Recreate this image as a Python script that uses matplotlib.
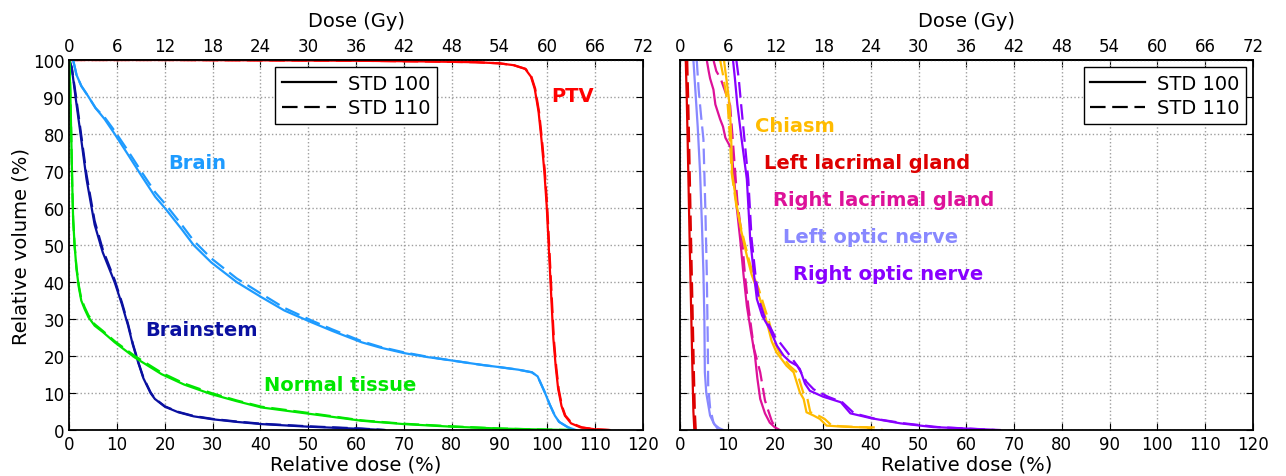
import matplotlib
matplotlib.use("Agg")
import matplotlib.pyplot as plt
from matplotlib.lines import Line2D
from matplotlib import rcParams

config = {
    "font.family": "DejaVu Sans",
    "font.size": 14,
    "xtick.labelsize": 12,
    "ytick.labelsize": 12,
    "xtick.direction": "in",
    "ytick.direction": "in",
    "xtick.major.size": 5,
    "ytick.major.size": 5,
    "axes.linewidth": 1.3,
}
rcParams.update(config)

# ---- left panel: relative dose (%) vs relative volume (%) ----
ptv_x = [0, 20, 40, 60, 75, 85, 90, 93, 95.4, 96.6, 97.4, 98.2, 98.8, 99.4, 99.9, 100.6,
         101.3, 101.8, 102.3, 103, 103.7, 105, 107, 110, 113]
ptv_y = [100, 100, 99.9, 99.8, 99.6, 99.4, 99.1, 98.6, 97.6, 95.5, 92.2, 86, 78.6, 70, 60.6, 42.6,
         24.6, 17, 11.1, 6.5, 3.9, 1.8, 0.7, 0.2, 0]
ptv_x2 = [0, 20, 40, 60, 75, 85, 90, 93, 95.5, 96.7, 97.5, 98.3, 98.9, 99.5, 100.0, 100.7,
          101.4, 101.9, 102.4, 103.1, 103.8, 105.2, 107.3, 110, 113]
ptv_y2 = ptv_y

brain_x = [0.8, 1.5, 2.5, 3.9, 5.5, 7.4, 9.5, 12, 15.1, 18, 20, 23.5, 26, 29.7, 35,
           40.2, 45, 50.7, 55, 61.2, 65, 70, 75, 80, 86.3, 90, 94, 96.8, 98, 99.5,
           100.5, 101.6, 102.5, 104.4, 106]
brain_y = [100, 96, 93, 90.3, 87, 84, 80, 75, 68.7, 63, 60, 54.3, 50, 45.3, 40,
           35.9, 32.3, 29.1, 26.8, 23.7, 22.3, 20.8, 19.7, 18.8, 17.6, 17, 16.3, 15.6, 14.5, 10.2,
           7, 3.9, 2.2, 0.7, 0]
brain_y2 = [100, 96, 93, 90.3, 87, 84.5, 80.8, 76, 69.8, 64.2, 61.2, 55.5, 51.2, 46.4, 41,
            36.8, 33, 29.6, 27.2, 24, 22.5, 21, 19.8, 18.8, 17.6, 17, 16.3, 15.6, 14.5, 10.2,
            7, 3.9, 2.2, 0.7, 0]

stem_x = [0, 0.5, 0.8, 1.3, 2.2, 3.6, 5.3, 7, 9.5, 11, 12.3, 13.3, 14.4, 15.5, 17,
          17.9, 20, 22.8, 26, 30, 35, 40.2, 50, 61.2, 66]
stem_y = [100, 98, 95, 90, 81.4, 67.8, 55.5, 48, 39.9, 34, 28.2, 23, 18.3, 14, 10,
          8.4, 6.3, 4.8, 3.7, 2.9, 2.2, 1.6, 0.9, 0.3, 0]
stem_y2 = [100, 98, 95.5, 91, 82.5, 69, 56.5, 48.8, 40.5, 34.5, 28.6, 23.3, 18.5, 14.2, 10.2,
           8.5, 6.4, 4.9, 3.8, 3.0, 2.3, 1.7, 1.0, 0.4, 0]

norm_x = [0, 0.2, 0.4, 0.6, 0.8, 1.1, 1.5, 2, 2.5, 3.2, 4, 5.3, 7, 9.5, 13.7,
          19.3, 24, 29.7, 35, 40.2, 50.7, 61.2, 70, 80, 90, 100, 105]
norm_y = [100, 92, 80, 67, 57, 50, 43.5, 38.5, 35, 32.7, 30.5, 28.2, 26.5, 23.7, 19.6,
          15.1, 12.3, 9.7, 7.8, 6.1, 4.3, 2.5, 1.6, 0.9, 0.4, 0.1, 0]
norm_y2 = [100, 92, 80, 67, 57, 50, 44, 39, 35.5, 33.2, 31, 28.6, 26.8, 24, 20,
           15.5, 12.6, 10, 8, 6.3, 4.5, 2.6, 1.7, 1.0, 0.4, 0.1, 0]

# ---- right panel ----
llac_x = [1.2, 1.4, 1.6, 1.8, 2.0, 2.2, 2.4, 2.6, 2.8, 3.0]
llac_y = [100, 90, 78, 65, 52, 40, 28, 16, 5, 0]
llac_x2 = [1.5, 1.7, 1.9, 2.1, 2.3, 2.5, 2.7, 2.9, 3.1, 3.3]
llac_y2 = llac_y

lopt_x = [2.8, 3.2, 3.7, 4.2, 4.6, 4.9, 5.1, 5.2, 5.5, 6.3, 7.2, 8.2, 9.1]
lopt_y = [100, 92, 82, 69.6, 55, 42.6, 30, 15.6, 10, 3.9, 1.5, 0.5, 0]
lopt_x2 = [3.5, 3.9, 4.4, 4.9, 5.3, 5.6, 5.8, 5.9, 6.3, 7.0, 7.8, 8.5]
lopt_y2 = [100, 92, 85, 78.6, 60, 42.6, 25, 12, 6, 2, 0.5, 0]

rlac_x = [5.6, 6.0, 6.3, 7.0, 7.4, 8.4, 9.0, 9.5, 10.8, 11.2, 11.9, 12.6, 13.3, 14.0, 14.8, 15.7,
          16.2, 16.8, 17.8, 18.8, 19.8, 20.9]
rlac_y = [100, 97, 95, 92, 88, 84, 82, 79, 75.9, 69.6, 60, 51.6, 42, 33.6, 27, 20.1,
          14, 8.4, 4.5, 2, 0.8, 0]
rlac_x2 = [7.0, 7.6, 8.5, 9.6, 10.5, 11.2, 12.0, 13.0, 13.6, 14.3, 15.5, 16.8, 17.8, 18.5, 19.2, 19.8, 20.5]
rlac_y2 = [100, 97, 95, 91, 87.7, 75.9, 62, 51.6, 42, 33.6, 22, 15.6, 8, 5.2, 2.5, 1, 0]

chi_x = [9.2, 9.6, 10.0, 10.4, 10.7, 10.9, 11.9, 12.8, 14.0, 15.0, 16.1, 17.4, 18.2,
         19.2, 20.2, 22.3, 23.8, 25.1, 25.9, 26.5, 28.0, 29.3, 30.7, 32.9, 36, 39.1, 40.4]
chi_y = [100, 96, 92, 87.7, 80, 69.6, 60.6, 54, 47.1, 42, 38.1, 32.7, 29.1,
         24, 21, 17.4, 15.6, 10.2, 8.4, 4.8, 3.9, 3.0, 1.2, 1.0, 0.8, 0.7, 0]
chi_x2 = [8.4, 9.0, 9.5, 10.0, 10.4, 10.8, 11.8, 12.9, 14.2, 15.3, 16.5, 17.8, 18.7,
          19.7, 20.8, 22.9, 24.5, 25.8, 26.7, 27.3, 29.0, 30.3, 31.8, 34, 37.5, 41, 42.5]
chi_y2 = chi_y

ropt_x = [11.1, 11.5, 12.0, 12.9, 14.0, 14.7, 15.5, 16.1, 17.2, 18.8, 20.3, 21.7, 23,
          24.5, 25.1, 26.2, 27.2, 30, 33.7, 35.7, 40, 46.2, 53, 60, 67]
ropt_y = [100, 95, 88, 78.6, 67.8, 51.6, 42, 35.4, 30.9, 27.3, 22.8, 20.1, 18.5,
          17.4, 16.5, 12.5, 10.6, 9, 7.5, 4.5, 3.2, 1.8, 0.8, 0.4, 0]
ropt_x2 = [11.8, 12.3, 12.8, 13.5, 14.3, 15.0, 15.8, 16.5, 17.6, 19.0, 20.0, 21.0, 22.5,
           24.5, 26.5, 28, 31, 34, 36.5, 41, 47, 54, 60, 66]
ropt_y2 = [100, 95, 88, 78.6, 67.8, 51.6, 42, 35.4, 30.9, 27.5, 25, 23.5, 21,
           17.5, 13, 11, 9, 7.5, 4.5, 3, 1.8, 0.8, 0.4, 0]

left_curves = [
    (ptv_x, ptv_y, ptv_x2, ptv_y2, "#ff0000"),
    (brain_x, brain_y, brain_x, brain_y2, "#1e9bff"),
    (stem_x, stem_y, stem_x, stem_y2, "#0a10a0"),
    (norm_x, norm_y, norm_x, norm_y2, "#00e600"),
]
left_labels = [("PTV", 100.9, 90.3, "#ff0000"),
               ("Brain", 20.7, 72.4, "#1e9bff"),
               ("Brainstem", 15.9, 27.3, "#0a10a0"),
               ("Normal tissue", 40.8, 12.4, "#00e600")]

right_curves = [
    (llac_x, llac_y, llac_x2, llac_y2, "#dd0000"),
    (lopt_x, lopt_y, lopt_x2, lopt_y2, "#8888ff"),
    (rlac_x, rlac_y, rlac_x2, rlac_y2, "#dd1199"),
    (chi_x, chi_y, chi_x2, chi_y2, "#ffbb00"),
    (ropt_x, ropt_y, ropt_x2, ropt_y2, "#8800ff"),
]
right_labels = [("Chiasm", 15.7, 82.2, "#ffbb00"),
                ("Left lacrimal gland", 17.6, 72.4, "#dd0000"),
                ("Right lacrimal gland", 19.5, 62.4, "#dd1199"),
                ("Left optic nerve", 21.6, 52.2, "#8888ff"),
                ("Right optic nerve", 23.7, 42.2, "#8800ff")]

fig = plt.figure(figsize=(12.86, 4.77), dpi=100)
ax1 = fig.add_axes([0.0539, 0.0964, 0.4459, 0.7757])
ax2 = fig.add_axes([0.5288, 0.0964, 0.4453, 0.7757])

dash = (0, (7, 3))


def draw(ax, curves, labels, legend_loc):
    for x1, y1, x2, y2, c in curves:
        ax.plot(x1, y1, color=c, lw=1.6)
        ax.plot(x2, y2, color=c, lw=1.6, linestyle=dash)
    for txt, x, y, c in labels:
        ax.text(x, y, txt, color=c, fontsize=14, fontweight="bold", va="center", ha="left")
    ax.set_xlim(0, 120)
    ax.set_ylim(0, 100)
    ax.set_xticks(range(0, 121, 10))
    ax.set_yticks(range(0, 101, 10))
    ax.grid(True, color="0.62", linestyle=":", linewidth=1)
    ax.tick_params(right=True, top=False)
    ax.set_xlabel("Relative dose (%)", labelpad=1)
    sec = ax.secondary_xaxis("top", functions=(lambda v: v * 0.6, lambda v: v / 0.6))
    sec.set_xticks(range(0, 73, 6))
    sec.tick_params(direction="in", length=5)
    sec.set_xlabel("Dose (Gy)", labelpad=8)
    handles = [Line2D([], [], color="k", lw=1.6),
               Line2D([], [], color="k", lw=1.6, linestyle=dash)]
    leg = ax.legend(handles, ["STD 100", "STD 110"], loc=legend_loc, fancybox=False,
                    framealpha=1, edgecolor="k", handlelength=2.8, handletextpad=0.6,
                    borderpad=0.35, labelspacing=0.3, borderaxespad=0.35)
    leg.get_frame().set_linewidth(1.0)


draw(ax1, left_curves, left_labels, "upper center")
draw(ax2, right_curves, right_labels, "upper right")
ax1.set_ylabel("Relative volume (%)", labelpad=2)
ax2.set_yticklabels([])

fig.savefig("out.png", dpi=100)
